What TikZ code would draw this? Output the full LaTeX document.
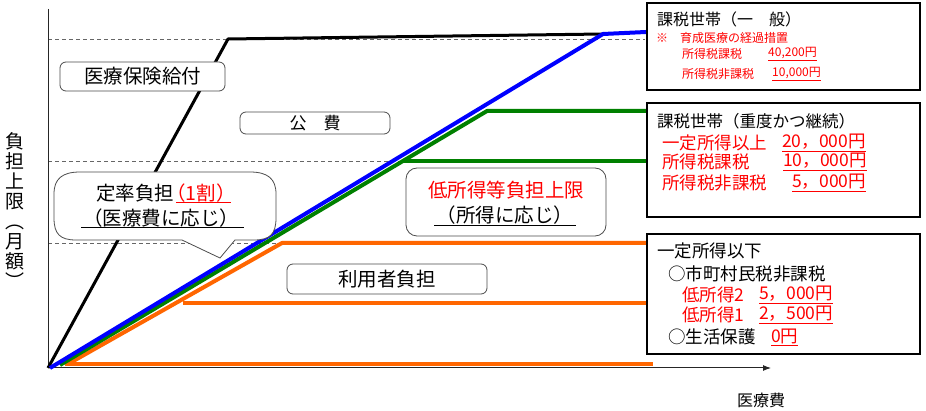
\documentclass[tikz,border=0pt]{standalone}
\usepackage{fontspec}
\setmainfont{Noto Sans CJK JP}
\usetikzlibrary{arrows.meta}
\definecolor{myblue}{RGB}{0,0,255}
\definecolor{mygreen}{RGB}{0,128,0}
\definecolor{myorange}{RGB}{255,102,0}
\definecolor{myred}{RGB}{255,0,0}
\begin{document}
\begin{tikzpicture}[x=1pt,y=-1pt,
  lblbox/.style={draw=black!70, line width=0.8pt, rounded corners=6pt, fill=white, inner sep=0pt},
  rbox/.style={draw=black, line width=1.2pt, fill=white, inner sep=0pt},
  txt/.style={inner sep=0pt, anchor=west},
  bigf/.style={font=\fontsize{19.5}{20}\selectfont},
  midf/.style={font=\fontsize{17.5}{18}\selectfont},
  topf/.style={font=\fontsize{16}{17}\selectfont},
  smlf/.style={font=\fontsize{12}{13}\selectfont},
  dashline/.style={draw=black!60, dash pattern=on 4pt off 3pt, line width=0.8pt},
  plotline/.style={line width=4pt, line join=round},
  ulr/.style={myred, line width=0.8pt}]
\useasboundingbox (0,0) rectangle (926,411);
\fill[white] (0,0) rectangle (926,411);

% dashed guide lines
\draw[dashline] (48,39) -- (645,39);
\draw[dashline] (48,161) -- (403,161);
\draw[dashline] (48,243) -- (282,243);

% axes
\coordinate (O) at (48,368);
\coordinate (ytop) at (48,9);
\coordinate (xend) at (771,368);
\draw[line width=1pt, black!85] (ytop) -- (O);
\draw[line width=1pt, black!85, -{Latex[length=8pt,width=6pt]}] (O) -- (xend);

% orange
\draw[plotline, myorange] (65,364) -- (653,364);
\draw[plotline, myorange] (68,364) -- (282,243) -- (646,243);
\draw[plotline, myorange] (183,303) -- (646,303);
% green
\draw[plotline, mygreen] (60,365) -- (487,111) -- (646,111);
\draw[plotline, mygreen] (403,161) -- (646,161);
% black
\draw[line width=3pt, black, line join=round] (48,368) -- (228,39) -- (603,34);
% blue
\draw[plotline, myblue] (50,368) -- (603,34) -- (646,32);

% label boxes
\node[lblbox, bigf, minimum width=165pt, minimum height=29pt] (hoken) at (142.5,76.5) {医療保険給付};
\node[lblbox, font=\fontsize{17}{18}\selectfont, minimum width=150pt, minimum height=22pt] (kouhi) at (315,123) {公　費};
\node[lblbox, bigf, minimum width=200pt, minimum height=30pt] (riyou) at (387,279) {利用者負担};

% low income callout
\node[lblbox, rounded corners=11pt, minimum width=200pt, minimum height=68pt] (tei) at (506,202) {};
\node[inner sep=0pt, bigf, text=myred] (tei1) at (506,190) {低所得等負担上限};
\node[inner sep=0pt, bigf] (tei2) at (505,215) {（所得に応じ）};
\draw[black, line width=0.8pt] (434,225) -- (576,225);

% speech bubble
\draw[draw=black!70, line width=0.8pt, fill=white]
  (80,172) -- (250,172) .. controls (268,172) and (276,179) .. (276,194)
  -- (276,218) .. controls (276,234) and (270,240) .. (254,240)
  -- (235,240) -- (220,258) -- (182,240)
  -- (76,240) .. controls (60,240) and (54,234) .. (54,218)
  -- (54,194) .. controls (54,179) and (62,172) .. (80,172) -- cycle;
\node[inner sep=0pt, bigf] (bub1) at (166,193) {定率負担\hspace{-8pt}\textcolor{myred}{（1割）}};
\node[inner sep=0pt, bigf] (bub2) at (161,218) {（医療費に応じ）};
\draw[ulr] (176,202) -- (231,202);
\draw[black, line width=0.8pt] (81,227) -- (244,227);

% right boxes
\node[rbox, minimum width=273pt, minimum height=87pt] (rtop) at (783.5,46.5) {};
\node[rbox, minimum width=273pt, minimum height=114pt] (rmid) at (783.5,160) {};
\node[rbox, minimum width=273pt, minimum height=120pt] (rbot) at (783.5,294) {};

% top box text
\node[txt, topf] (a1) at (657,19) {課税世帯（一　般）};
\node[txt, smlf, text=myred] (a2) at (656,38) {※　育成医療の経過措置};
\node[txt, smlf, text=myred] (a3) at (682,54) {所得税課税};
\node[txt, smlf, text=myred] (a4) at (768,54) {\underline{40,200円}};
\node[txt, smlf, text=myred] (a5) at (682,74) {所得税非課税};
\node[txt, smlf, text=myred] (a6) at (772,74) {\underline{10,000円}};

% middle box text
\node[txt, font=\fontsize{16.5}{17}\selectfont] (m1) at (657,121) {課税世帯（重度かつ継続）};
\node[txt, midf, text=myred] (m2) at (662,143) {一定所得以上};
\node[txt, midf, text=myred] (m3) at (782,143) {\underline{20，000円}};
\node[txt, midf, text=myred] (m4) at (662,162) {所得税課税};
\node[txt, midf, text=myred] (m5) at (783,162) {\underline{10，000円}};
\node[txt, midf, text=myred] (m6) at (662,183) {所得税非課税};
\node[txt, midf, text=myred] (m7) at (792,183) {\underline{5，000円}};

% bottom box text
\node[txt, midf] (n1) at (657,251) {一定所得以下};
\node[txt, midf] (n2) at (668,274) {○市町村民税非課税};
\node[txt, midf, text=myred] (n3) at (682,295) {低所得2};
\node[txt, midf, text=myred] (n4) at (759,295) {\underline{5，000円}};
\node[txt, midf, text=myred] (n5) at (682,315) {低所得1};
\node[txt, midf, text=myred] (n6) at (759,315) {\underline{2，500円}};
\node[txt, midf] (n7) at (668,337) {○生活保護};
\node[txt, midf, text=myred] (n8) at (771,337) {\underline{0円}};

% axis labels
\node[inner sep=0pt, align=center, font=\fontsize{19}{20}\selectfont] (ylab) at (15,211) {負\\担\\上\\限\\︵\\月\\額\\︶};
\node[inner sep=0pt, font=\fontsize{16}{16}\selectfont] (xlab) at (761,400) {医療費};
\end{tikzpicture}
\end{document}
